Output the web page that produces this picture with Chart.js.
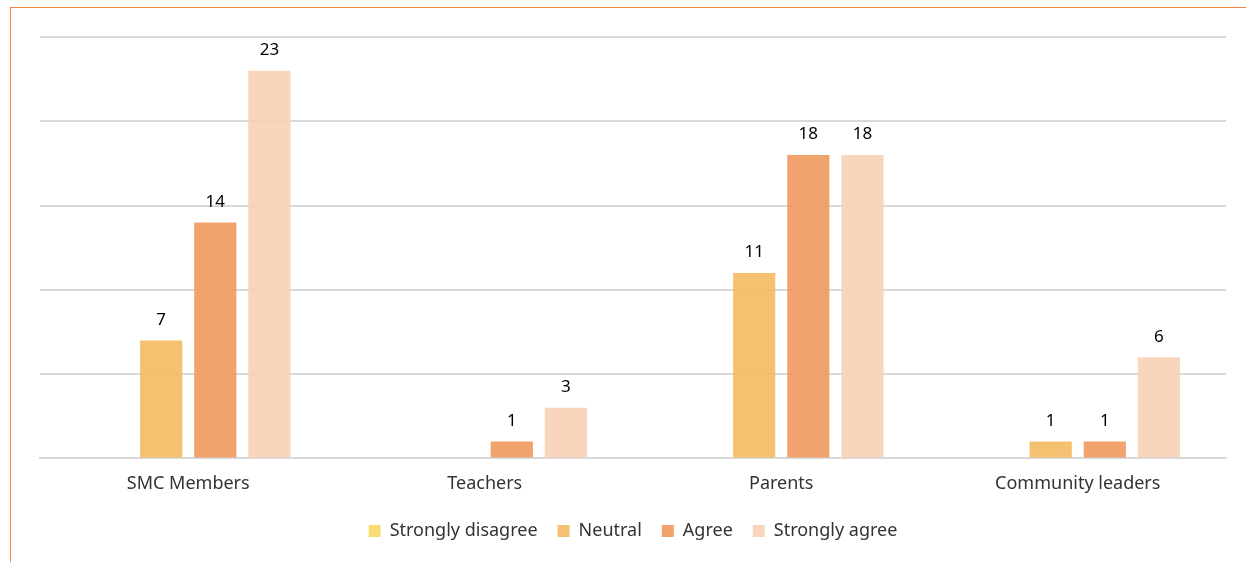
<!DOCTYPE html>
<html>
<head>
<meta charset="utf-8">
<script src="https://cdn.jsdelivr.net/npm/chart.js@4.4.0/dist/chart.umd.min.js"></script>
<style>
  html, body { margin: 0; padding: 0; background: #fff; }
  #wrap { position: relative; width: 1246px; height: 562px; }
  #frame { position: absolute; left: 10px; top: 7px; right: 0; bottom: 0;
           border-left: 1px solid #f58a3c; border-top: 1px solid #f58a3c; }
  canvas { position: absolute; left: 0; top: 0; }
</style>
</head>
<body>
<div id="wrap">
  <div id="frame"></div>
  <canvas id="chart" width="1246" height="562"></canvas>
</div>
<script>
const categories = ['SMC Members', 'Teachers', 'Parents', 'Community leaders'];
const stronglyDisagree = [0, 0, 0, 0];
const neutral = [7, 0, 11, 1];
const agree = [14, 1, 18, 1];
const stronglyAgree = [23, 3, 18, 6];

const FONT = '"Noto Sans", "Open Sans", sans-serif';

// value labels above each bar
const barLabels = {
    id: 'barLabels',
    afterDatasetsDraw(chart) {
        const ctx = chart.ctx;
        ctx.save();
        ctx.fillStyle = '#000';
        ctx.font = '17px ' + FONT;
        ctx.textAlign = 'center';
        ctx.textBaseline = 'bottom';
        chart.data.datasets.forEach((ds, i) => {
            chart.getDatasetMeta(i).data.forEach((bar, j) => {
                const v = ds.data[j];
                if (!v) return;
                ctx.fillText(v, bar.x, bar.y - 12);
            });
        });
        ctx.restore();
    }
};

new Chart(document.getElementById('chart'), {
    type: 'bar',
    data: {
        labels: categories,
        datasets: [
            { label: 'Strongly disagree', data: stronglyDisagree, backgroundColor: 'rgba(250,216,104,0.9)' },
            { label: 'Neutral', data: neutral, backgroundColor: 'rgba(244,186,96,0.9)' },
            { label: 'Agree', data: agree, backgroundColor: 'rgba(240,153,94,0.9)' },
            { label: 'Strongly agree', data: stronglyAgree, backgroundColor: 'rgba(247,208,181,0.9)' }
        ]
    },
    options: {
        responsive: false,
        animation: false,
        layout: { padding: { left: 40, right: 20, top: 37, bottom: 12 } },
        datasets: { bar: { categoryPercentage: 0.73, barPercentage: 0.78 } },
        plugins: {
            legend: {
                position: 'bottom',
                labels: {
                    boxWidth: 12, boxHeight: 12, padding: 20,
                    color: '#333', font: { family: FONT, size: 18 }
                }
            },
            tooltip: { enabled: false }
        },
        scales: {
            x: {
                grid: { display: false },
                border: { color: '#d9d9d9', width: 2 },
                ticks: { color: '#333', font: { family: FONT, size: 18 }, padding: 7 }
            },
            y: {
                min: 0, max: 25,
                ticks: { display: false, stepSize: 5 },
                grid: { color: '#d9d9d9', lineWidth: 2, drawTicks: false },
                border: { display: false }
            }
        }
    },
    plugins: [barLabels]
});
</script>
</body>
</html>
